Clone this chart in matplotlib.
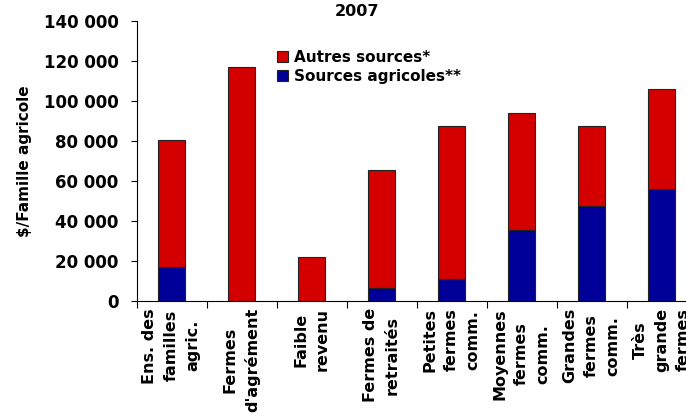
import numpy as np
import matplotlib

matplotlib.use("Agg")

import matplotlib.pyplot as plt
from matplotlib.ticker import FuncFormatter

# ----- data -----
categories = [
    "Ens. des\nfamilles\nagric.",
    "Fermes\nd'agrément",
    "Faible\nrevenu",
    "Fermes de\nretraités",
    "Petites\nfermes\ncomm.",
    "Moyennes\nfermes\ncomm.",
    "Grandes\nfermes\ncomm.",
    "Très\ngrande\nfermes",
]
sources_agricoles = [17100, 0, 0, 6650, 11000, 35700, 47500, 56200]
autres_sources = [63500, 117200, 22100, 58650, 76500, 58100, 40000, 49700]
y_ticks = [0, 20000, 40000, 60000, 80000, 100000, 120000, 140000]

RED = "#D40000"
BLUE = "#000099"

plt.rcParams["font.family"] = "DejaVu Sans"
plt.rcParams["font.weight"] = "bold"

fig = plt.figure(figsize=(6.86, 4.17), dpi=100)
# axes runs a bit past the right edge, like the original screenshot
ax = fig.add_axes([136.5 / 686, 1 - 301 / 417, 560 / 686, 280 / 417])

x = np.arange(len(categories)) + 0.5
w = 0.39
ax.bar(x, sources_agricoles, w, color=BLUE, edgecolor="#222222", linewidth=0.8,
       label="Sources agricoles**")
ax.bar(x, autres_sources, w, bottom=sources_agricoles, color=RED,
       edgecolor="#222222", linewidth=0.8, label="Autres sources*")

ax.set_xlim(0, len(categories))
ax.set_ylim(0, 140000)

# y axis
ax.set_yticks(y_ticks)
ax.yaxis.set_major_formatter(FuncFormatter(lambda v, p: f"{int(v):,}".replace(",", " ")))
ax.tick_params(axis="y", direction="out", length=4, width=0.8, pad=9,
               labelsize=12)
for t in ax.get_yticklabels():
    t.set_fontweight("bold")
ax.set_ylabel("$/Famille agricole", fontsize=11, fontweight="bold", labelpad=8)

# x axis: ticks at boundaries, labels at centres
ax.set_xticks(np.arange(len(categories) + 1))
ax.set_xticklabels([])
ax.tick_params(axis="x", which="major", direction="out", length=5, width=0.8)
ax.set_xticks(x, minor=True)
ax.set_xticklabels(categories, minor=True, rotation=90, ha="center", va="top",
                   multialignment="center", fontsize=11.5, fontweight="bold",
                   linespacing=1.55)
ax.tick_params(axis="x", which="minor", length=0, pad=5)

for s in ["top", "right"]:
    ax.spines[s].set_visible(False)
ax.spines["left"].set_linewidth(0.8)
ax.spines["bottom"].set_linewidth(0.8)

fig.text(357 / 686, 1 - 12 / 417, "2007", ha="center", va="center",
         fontsize=11.5, fontweight="bold")

handles, labels = ax.get_legend_handles_labels()
leg = fig.legend(handles[::-1], labels[::-1], loc="upper left",
                 bbox_to_anchor=(269 / 686, 1 - 42 / 417), frameon=False,
                 prop={"size": 11, "weight": "bold"}, handlelength=0.75,
                 handleheight=0.75, handletextpad=0.4, labelspacing=0.3,
                 borderpad=0)

fig.savefig("out.png", dpi=100)
